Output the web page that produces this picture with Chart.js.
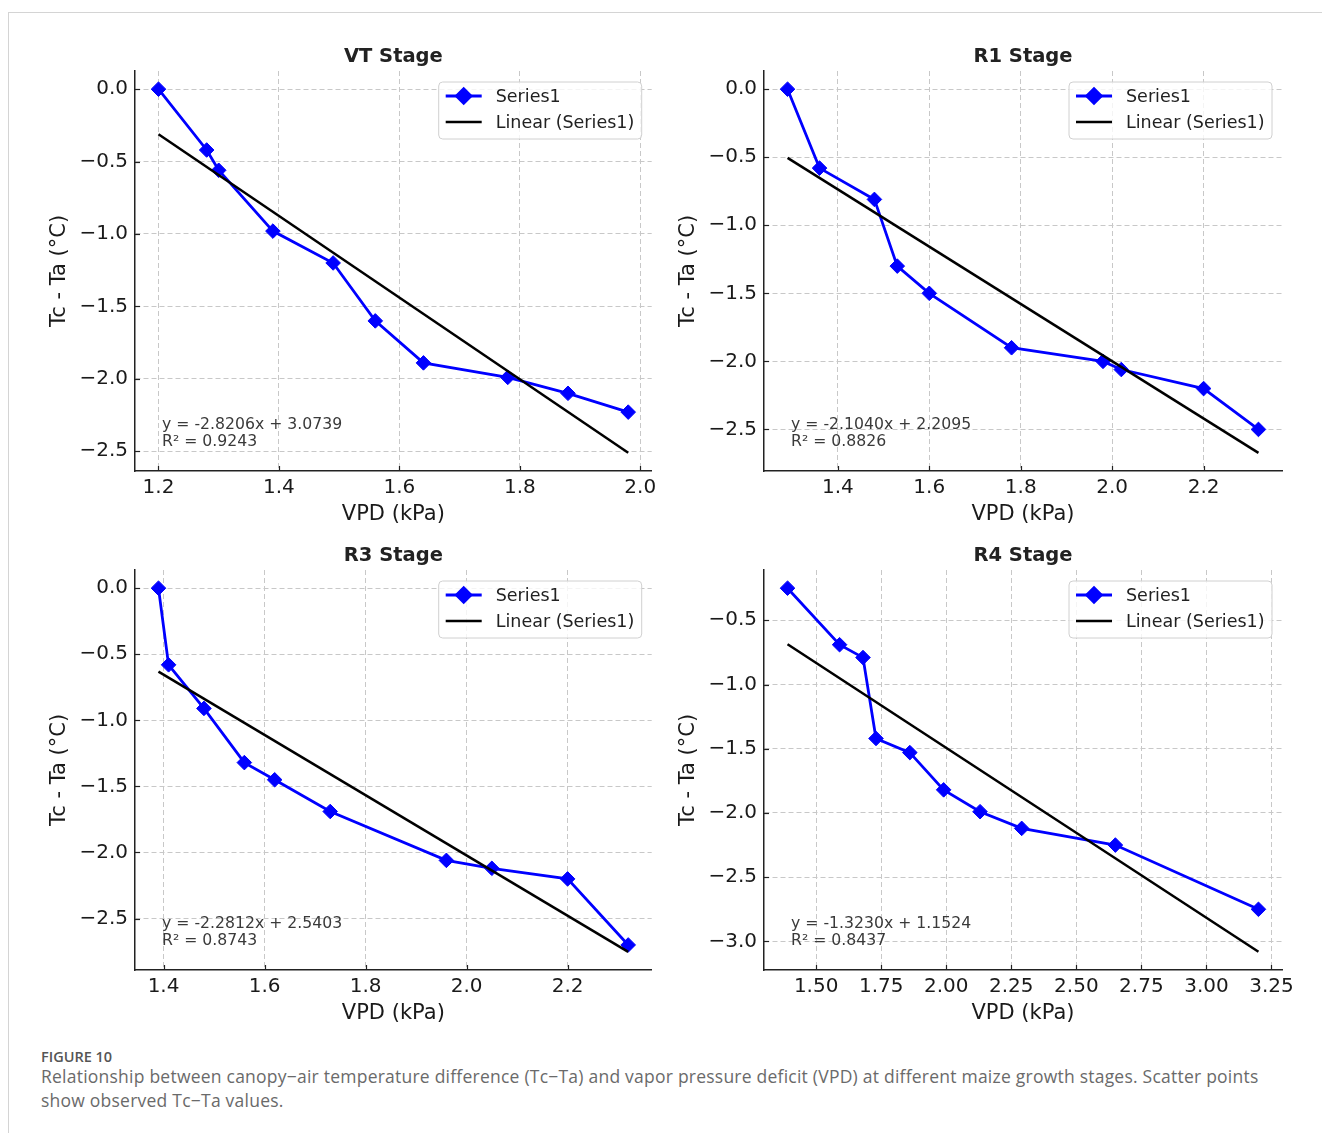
<!DOCTYPE html>
<html>
<head>
<meta charset="UTF-8" />
<title>Tc - Ta versus VPD at maize growth stages</title>
<style type="text/css">
  body { margin: 0; background: #fff; width: 1322px; height: 1133px; position: relative; overflow: hidden; }
  .frame { position: absolute; left: 8px; top: 12px; right: 0; bottom: 0;
           border-top: 1px solid #d4d4d4; border-left: 1px solid #d4d4d4; }
  .chartBox { position: absolute; height: 500px; }
  .figno { position: absolute; left: 41px; top: 1048px; font-family: "Open Sans", sans-serif;
           font-weight: 600; font-size: 14.5px; line-height: 18px; color: #555; }
  .caption { position: absolute; left: 41px; top: 1064px; font-family: "Open Sans", sans-serif;
             font-size: 17.5px; letter-spacing: 0.23px; line-height: 24px; color: #6a6a6a; white-space: nowrap; }
</style>
</head>
<body>
<div class="frame"></div>
<div class="chartBox" style="left:0px;top:31px"><canvas id="chartVT" width="660" height="500"></canvas></div>
<div class="chartBox" style="left:629px;top:31px"><canvas id="chartR1" width="693" height="500"></canvas></div>
<div class="chartBox" style="left:0px;top:530px"><canvas id="chartR3" width="660" height="500"></canvas></div>
<div class="chartBox" style="left:629px;top:530px"><canvas id="chartR4" width="693" height="500"></canvas></div>
<div class="figno">FIGURE 10</div>
<div class="caption">Relationship between canopy−air temperature difference (Tc−Ta) and vapor pressure deficit (VPD) at different maize growth stages. Scatter points<br>show observed Tc−Ta values.</div>

<script src="https://cdn.jsdelivr.net/npm/chart.js"></script>
<script>
// VT stage
const vtVpd  = [1.20, 1.28, 1.30, 1.39, 1.49, 1.56, 1.64, 1.78, 1.88, 1.98];
const vtTcTa = [0.00, -0.42, -0.56, -0.98, -1.20, -1.60, -1.89, -1.99, -2.10, -2.23];
const vtTrendX = [1.20, 1.98];
const vtTrendY = [-0.311, -2.511];
const vtXTicks = [1.2, 1.4, 1.6, 1.8, 2.0];
const vtYTicks = [0, -0.5, -1.0, -1.5, -2.0, -2.5];

// R1 stage
const r1Vpd  = [1.29, 1.36, 1.48, 1.53, 1.60, 1.78, 1.98, 2.02, 2.20, 2.32];
const r1TcTa = [0.00, -0.58, -0.81, -1.30, -1.50, -1.90, -2.00, -2.06, -2.20, -2.50];
const r1TrendX = [1.29, 2.32];
const r1TrendY = [-0.505, -2.672];
const r1XTicks = [1.4, 1.6, 1.8, 2.0, 2.2];
const r1YTicks = [0, -0.5, -1.0, -1.5, -2.0, -2.5];

// R3 stage
const r3Vpd  = [1.39, 1.41, 1.48, 1.56, 1.62, 1.73, 1.96, 2.05, 2.20, 2.32];
const r3TcTa = [0.00, -0.58, -0.91, -1.32, -1.45, -1.69, -2.06, -2.12, -2.20, -2.70];
const r3TrendX = [1.39, 2.32];
const r3TrendY = [-0.631, -2.752];
const r3XTicks = [1.4, 1.6, 1.8, 2.0, 2.2];
const r3YTicks = [0, -0.5, -1.0, -1.5, -2.0, -2.5];

// R4 stage
const r4Vpd  = [1.39, 1.59, 1.68, 1.73, 1.86, 1.99, 2.13, 2.29, 2.65, 3.20];
const r4TcTa = [-0.25, -0.69, -0.79, -1.42, -1.53, -1.82, -1.99, -2.12, -2.25, -2.75];
const r4TrendX = [1.39, 3.20];
const r4TrendY = [-0.687, -3.081];
const r4XTicks = [1.50, 1.75, 2.00, 2.25, 2.50, 2.75, 3.00, 3.25];
const r4YTicks = [-0.5, -1.0, -1.5, -2.0, -2.5, -3.0];

const FONT = '"DejaVu Sans", sans-serif';
const TEXT = '#1a1a1a';

function fmt(v, dec) {
  return v.toFixed(dec).replace('-', '\u2212');
}

// legend box, equation text and inward tick marks
const extras = {
  id: 'extras',
  afterDraw(chart, args, opts) {
    const ctx = chart.ctx;
    const a = chart.chartArea;
    ctx.save();

    // inward ticks
    ctx.strokeStyle = '#222';
    ctx.lineWidth = 1.2;
    const xs = chart.scales.x, ys = chart.scales.y;
    xs.ticks.forEach(t => {
      const px = Math.round(xs.getPixelForValue(t.value)) + 0.5;
      ctx.beginPath(); ctx.moveTo(px, a.bottom); ctx.lineTo(px, a.bottom - 5); ctx.stroke();
    });
    ys.ticks.forEach(t => {
      const py = Math.round(ys.getPixelForValue(t.value)) + 0.5;
      ctx.beginPath(); ctx.moveTo(a.left, py); ctx.lineTo(a.left + 5, py); ctx.stroke();
    });

    // equation
    ctx.fillStyle = '#3a3a3a';
    ctx.font = '15.7px ' + FONT;
    ctx.textBaseline = 'middle';
    ctx.textAlign = 'left';
    ctx.fillText(opts.eq, a.left + 27, a.bottom - 46);
    ctx.fillText(opts.r2, a.left + 27, a.bottom - 29);

    // legend
    const w = 203, h = 57, r = 4;
    const bx = a.right - 10 - w, by = a.top + 11;
    ctx.beginPath();
    ctx.moveTo(bx + r, by);
    ctx.lineTo(bx + w - r, by); ctx.quadraticCurveTo(bx + w, by, bx + w, by + r);
    ctx.lineTo(bx + w, by + h - r); ctx.quadraticCurveTo(bx + w, by + h, bx + w - r, by + h);
    ctx.lineTo(bx + r, by + h); ctx.quadraticCurveTo(bx, by + h, bx, by + h - r);
    ctx.lineTo(bx, by + r); ctx.quadraticCurveTo(bx, by, bx + r, by);
    ctx.closePath();
    ctx.fillStyle = 'rgba(255,255,255,0.8)';
    ctx.fill();
    ctx.strokeStyle = '#d0d0d0';
    ctx.lineWidth = 1;
    ctx.stroke();

    const ds = chart.data.datasets;
    ctx.font = '17.5px ' + FONT;
    ds.forEach((d, i) => {
      const ly = by + 14 + i * 26;
      ctx.strokeStyle = d.borderColor;
      ctx.lineWidth = d.borderWidth;
      ctx.beginPath(); ctx.moveTo(bx + 7, ly); ctx.lineTo(bx + 43, ly); ctx.stroke();
      if (d.pointRadius > 0) {
        Chart.helpers.drawPoint(ctx, {
          pointStyle: 'rectRot', radius: d.pointRadius, borderWidth: 1, rotation: 0
        }, bx + 25, ly);
        ctx.fillStyle = d.pointBackgroundColor;
        ctx.fill();
      }
      ctx.fillStyle = '#222';
      ctx.fillText(d.label, bx + 57, ly + 1);
    });
    ctx.restore();
  }
};

function makeChart(id, title, vpd, tcta, trendX, trendY, xTicks, yTicks, xDec, eq, r2, padRight) {
  const allY = tcta.concat(trendY);
  const xmin = Math.min(...vpd), xmax = Math.max(...vpd);
  const ymin = Math.min(...allY), ymax = Math.max(...allY);
  const mx = (xmax - xmin) * 0.05, my = (ymax - ymin) * 0.05;

  return new Chart(document.getElementById(id), {
    type: 'line',
    data: {
      datasets: [{
        label: 'Series1',
        data: vpd.map((x, i) => ({x: x, y: tcta[i]})),
        borderColor: '#0000ff',
        backgroundColor: '#0000ff',
        pointBackgroundColor: '#0000ff',
        pointBorderColor: '#0000ff',
        borderWidth: 2.8,
        pointStyle: 'rectRot',
        pointRadius: 7.3,
        pointBorderWidth: 1,
        tension: 0,
        order: 1
      }, {
        label: 'Linear (Series1)',
        data: trendX.map((x, i) => ({x: x, y: trendY[i]})),
        borderColor: '#000000',
        backgroundColor: '#000000',
        borderWidth: 2.5,
        pointRadius: 0,
        tension: 0,
        order: 0
      }]
    },
    options: {
      responsive: false,
      animation: false,
      events: [],
      layout: { padding: { left: 0, right: padRight, top: 0, bottom: 0 } },
      plugins: {
        legend: { display: false },
        tooltip: { enabled: false },
        title: {
          display: true,
          fullSize: false,
          text: title,
          color: '#222',
          font: { family: FONT, size: 19.5, weight: 'bold' },
          padding: { top: 13.8, bottom: 2.8 }
        },
        extras: { eq: eq, r2: r2 }
      },
      scales: {
        x: {
          type: 'linear',
          min: xmin - mx,
          max: xmax + mx,
          afterBuildTicks: s => { s.ticks = xTicks.map(v => ({value: v})); },
          afterFit: s => { s.height = 60; s.paddingLeft = 0; s.paddingRight = 0; },
          ticks: {
            color: TEXT, padding: 5, maxRotation: 0, autoSkip: false,
            font: { family: FONT, size: 20 },
            callback: v => fmt(v, xDec)
          },
          grid: { color: '#c8c8c8', lineWidth: 1, drawTicks: false },
          border: { display: true, color: '#222', width: 1.5, dash: [5, 3] },
          title: {
            display: true, text: 'VPD (kPa)', color: TEXT,
            font: { family: FONT, size: 21 }, padding: { top: 0, bottom: 3.4 }
          }
        },
        y: {
          type: 'linear',
          min: ymin - my,
          max: ymax + my,
          afterBuildTicks: s => { s.ticks = yTicks.map(v => ({value: v})); },
          afterFit: s => { s.width = 135; s.paddingTop = 0; s.paddingBottom = 0; },
          ticks: {
            color: TEXT, padding: 7, autoSkip: false,
            font: { family: FONT, size: 20 },
            callback: v => fmt(v, 1)
          },
          grid: { color: '#c8c8c8', lineWidth: 1, drawTicks: false },
          border: { display: true, color: '#222', width: 1.5, dash: [5, 3] },
          title: {
            display: true, text: 'Tc - Ta (°C)', color: TEXT,
            font: { family: FONT, size: 21 }, padding: { top: 47.4, bottom: 0 }
          }
        }
      }
    },
    plugins: [extras]
  });
}

makeChart('chartVT', 'VT Stage', vtVpd, vtTcTa, vtTrendX, vtTrendY, vtXTicks, vtYTicks, 1,
  'y = -2.8206x + 3.0739', 'R² = 0.9243', 7);
makeChart('chartR1', 'R1 Stage', r1Vpd, r1TcTa, r1TrendX, r1TrendY, r1XTicks, r1YTicks, 1,
  'y = -2.1040x + 2.2095', 'R² = 0.8826', 40);
makeChart('chartR3', 'R3 Stage', r3Vpd, r3TcTa, r3TrendX, r3TrendY, r3XTicks, r3YTicks, 1,
  'y = -2.2812x + 2.5403', 'R² = 0.8743', 7);
makeChart('chartR4', 'R4 Stage', r4Vpd, r4TcTa, r4TrendX, r4TrendY, r4XTicks, r4YTicks, 2,
  'y = -1.3230x + 1.1524', 'R² = 0.8437', 40);
</script>
</body>
</html>
